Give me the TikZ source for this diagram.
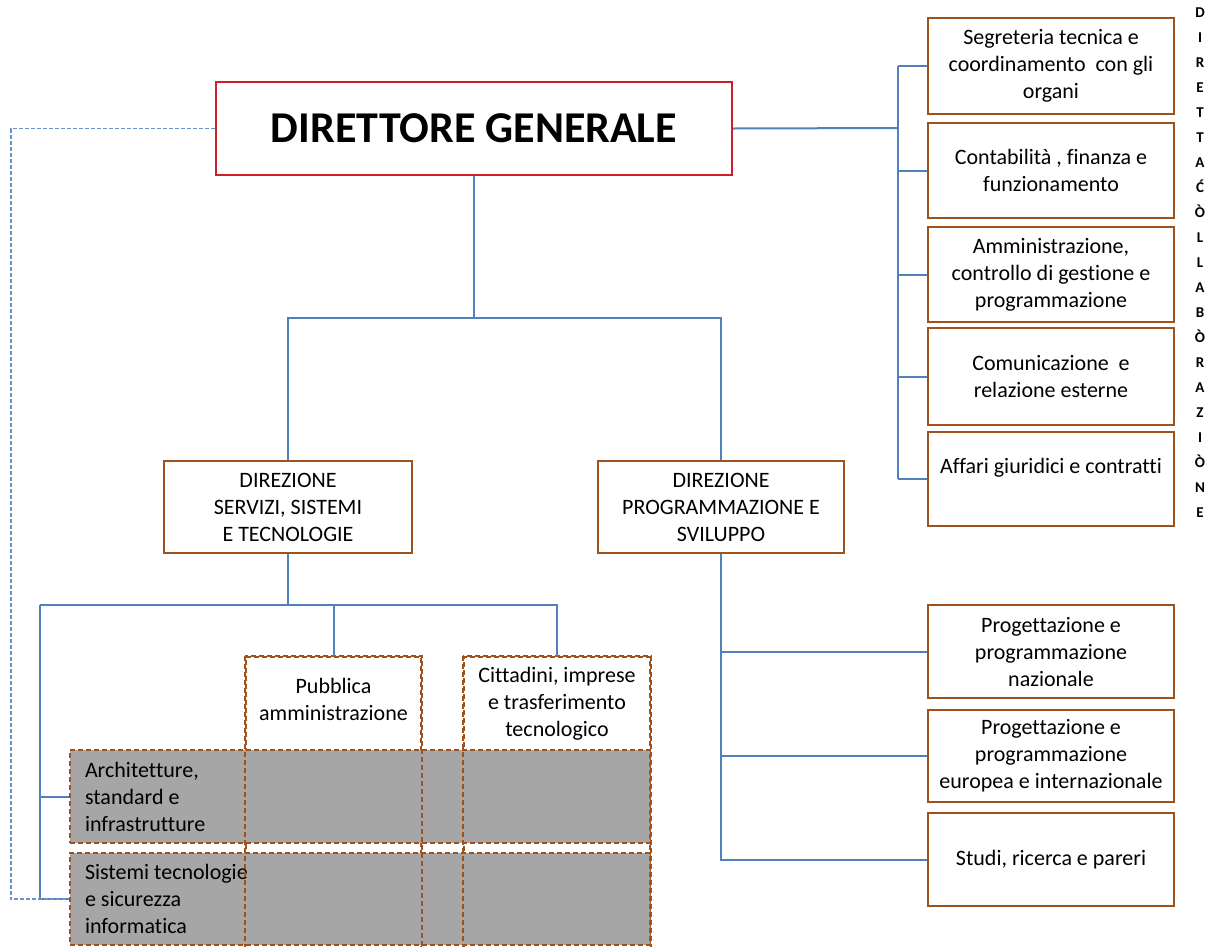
\documentclass[tikz,border=0pt]{standalone}
\usepackage{fontspec}
\setmainfont{Carlito}[Ligatures=CommonOff]
\usepackage{xcolor}
\usepackage{tikz}

\definecolor{lineblue}{RGB}{79,129,189}
\definecolor{boxbrown}{RGB}{158,82,30}
\definecolor{dgred}{RGB}{204,32,40}
\definecolor{cellgrey}{RGB}{166,166,166}

\tikzset{
    unitbox/.style={draw=boxbrown,line width=2.2pt,fill=white,align=center,inner sep=0pt,
                    minimum width=246pt,font=\fontsize{22}{27}\selectfont},
    gridbox/.style={draw=boxbrown,line width=1.6pt,dash pattern=on 5pt off 3pt},
    link/.style={draw=lineblue,line width=2pt},
    dashlink/.style={draw=lineblue!85,line width=1.3pt,dash pattern=on 4pt off 2pt}
}

\begin{document}
\begin{tikzpicture}[x=1pt,y=-1pt]
\useasboundingbox (0,0) rectangle (1215,946);
\clip (0,0) rectangle (1215,946);

\begin{scope}[every node/.style={unitbox}]
    \node[draw=dgred,line width=2pt,minimum width=516pt,minimum height=93pt,
          font=\fontsize{44}{50}\selectfont\bfseries] (DG) at (474,128.5) {DIRETTORE GENERALE};
    \node[minimum height=96pt] (R1) at (1051,66) {Segreteria tecnica e\\coordinamento~ con gli\\organi};
    \node[minimum height=95pt] (R2) at (1051,170.5) {Contabilità , finanza e\\funzionamento};
    \node[minimum height=95pt] (R3) at (1051,274.5) {Amministrazione,\\controllo di gestione e\\programmazione};
    \node[minimum height=97pt] (R4) at (1051,376.5) {Comunicazione~ e\\relazione esterne};
    \node[minimum height=94pt] (R5) at (1051,479) {Affari giuridici e contratti\\\phantom{A}};
    \node[minimum width=248pt,minimum height=92pt] (DS) at (288,507) {DIREZIONE\\SERVIZI, SISTEMI\\E TECNOLOGIE};
    \node[minimum height=92pt] (DP) at (721,507) {DIREZIONE\\PROGRAMMAZIONE E\\SVILUPPO};
    \node[minimum height=93pt] (P1) at (1051,651.5) {Progettazione e\\programmazione\\nazionale};
    \node[minimum height=92pt] (P2) at (1051,756) {Progettazione e\\programmazione\\europea e internazionale};
    \node[minimum height=93pt] (P3) at (1051,859.5) {Studi, ricerca e pareri};
\end{scope}

\begin{scope}[every node/.style={gridbox,inner sep=0pt,font=\fontsize{22}{27}\selectfont}]
    \node[fill=white,minimum width=175pt,minimum height=303pt] (CA) at (333.5,808.5) {};
    \node[fill=white,minimum width=186pt,minimum height=303pt] (CB) at (557,808.5) {};
    \node[draw=none,align=center] (HA) at (333.5,699.5) {Pubblica\\amministrazione};
    \node[draw=none,align=center] (HB) at (557,704) {Cittadini, imprese\\e trasferimento\\tecnologico};
    \node[fill=cellgrey,align=flush left,text width=550pt,inner xsep=15pt,minimum height=93pt] (RA) at (360,796.5)
        {Architetture,\\standard e\\infrastrutture};
    \node[fill=cellgrey,align=flush left,text width=550pt,inner xsep=15pt,minimum height=92pt] (RB) at (360,899)
        {Sistemi tecnologie\\e sicurezza\\informatica};
\end{scope}
\draw[gridbox] (CA.north west) rectangle (CA.south east);
\draw[gridbox] (CB.north west) rectangle (CB.south east);

\node[inner sep=0pt,align=center,font=\fontsize{15}{25}\selectfont\bfseries] (VT) at (1200,262.5)
    {D\\I\\R\\E\\T\\T\\A\\Ć\\Ò\\L\\L\\A\\B\\Ò\\R\\A\\Z\\I\\Ò\\N\\E};

\coordinate (busR) at (898,128);
\coordinate (split) at (474,318);
\coordinate (hubL) at (288,605);
\coordinate (busL) at (40,605);

\begin{scope}[every path/.style={link}]
    \draw (DG.east) -- (busR);
    \draw (R1.west -| busR) -- (R5.west -| busR);
    \foreach \r in {R1,R2,R3,R4,R5}
        \draw (\r.west -| busR) -- (\r.west);
    \draw (DG.south) -- (split);
    \draw (DS.north) |- (split) -| (DP.north);
    \draw (DS.south) -- (hubL);
    \draw (busL) -- (hubL -| CB.north) -- (CB.north);
    \draw (hubL -| CA.north) -- (CA.north);
    \draw (busL) |- (RB.west);
    \draw (RA.west -| busL) -- (RA.west);
    \draw (DP.south) |- (P3.west);
    \draw (P1.west -| DP.south) -- (P1.west);
    \draw (P2.west -| DP.south) -- (P2.west);
\end{scope}
\draw[dashlink] (DG.west) -- ++(-204,0) |- (RB.west);
\end{tikzpicture}
\end{document}
